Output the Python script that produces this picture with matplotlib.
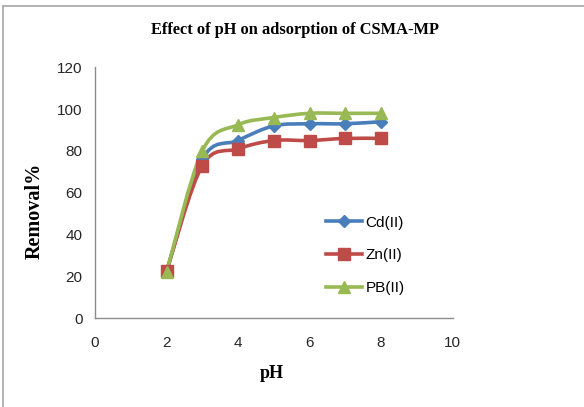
import numpy as np
import matplotlib
matplotlib.use("Agg")
import matplotlib.pyplot as plt
from matplotlib.path import Path
from matplotlib.patches import PathPatch
from matplotlib.lines import Line2D

ph = [2, 3, 4, 5, 6, 7, 8]
cd = [22, 76, 85, 92, 93, 93, 94]
zn = [22.5, 73, 81, 85, 85, 86, 86]
pb = [22, 80, 92.5, 96, 98, 98, 98]

labels = ["Cd(II)", "Zn(II)", "PB(II)"]
colors = ["#4a7ebb", "#be4b48", "#98b954"]
markers = ["D", "s", "^"]
msizes = [6, 8, 9]


def smooth_path(x, y):
    # Excel-style smoothed line: cubic Bezier through each point
    p = np.column_stack([x, y]).astype(float)
    n = len(p)
    verts = [p[0]]
    codes = [Path.MOVETO]
    for i in range(n - 1):
        p0 = p[i - 1] if i > 0 else p[i]
        p3 = p[i + 2] if i + 2 < n else p[i + 1]
        c1 = p[i] + (p[i + 1] - p0) / 6.0
        c2 = p[i + 1] - (p3 - p[i]) / 6.0
        verts += [c1, c2, p[i + 1]]
        codes += [Path.CURVE4] * 3
    return Path(verts, codes)


fig = plt.figure(figsize=(5.84, 4.07), dpi=100)
ax = fig.add_axes([95 / 584, 1 - 318.3 / 407, (452.5 - 95) / 584, (318.3 - 67.3) / 407])

handles = []
for vals, lab, c, m, ms in zip([cd, zn, pb], labels, colors, markers, msizes):
    ax.add_patch(PathPatch(smooth_path(ph, vals), facecolor="none", edgecolor=c,
                           lw=2.6, capstyle="round", joinstyle="round"))
    ax.plot(ph, vals, linestyle="none", marker=m, ms=ms, color=c)
    handles.append(Line2D([], [], color=c, lw=2.6, marker=m, ms=ms, label=lab))

ax.set_xlim(0, 10)
ax.set_ylim(0, 120)
ax.set_xticks(range(0, 11, 2))
ax.set_yticks(range(0, 121, 20))
for s in ["top", "right"]:
    ax.spines[s].set_visible(False)
for s in ["left", "bottom"]:
    ax.spines[s].set_color("#8c8c8c")
    ax.spines[s].set_linewidth(1.0)
ax.tick_params(length=0, labelsize=11, colors="#262626", pad=9)
ax.tick_params(axis="x", pad=13)
for t in ax.get_xticklabels() + ax.get_yticklabels():
    t.set_fontfamily("Liberation Sans")

fig.text(295 / 584, 1 - 30 / 407, "Effect of pH on adsorption of CSMA-MP",
         ha="center", va="center", family="Liberation Serif", weight="bold", fontsize=11.8)
fig.text(35 / 584, 1 - 211 / 407, "Removal%", rotation=90, ha="center", va="center",
         family="Liberation Serif", weight="bold", fontsize=14.5)
fig.text(272 / 584, 1 - 373 / 407, "pH", ha="center", va="center",
         family="Liberation Serif", weight="bold", fontsize=13)

fig.legend(handles=handles, loc="upper left", bbox_to_anchor=(318 / 584, 1 - 208 / 407),
           frameon=False, prop={"family": "Liberation Sans", "size": 11},
           handlelength=2.4, handletextpad=0.2, labelspacing=1.22, borderpad=0)

# chart area border
fig.add_artist(Line2D([3 / 584, 3 / 584], [0, 1 - 6 / 407], color="#a6a6a6", lw=1.2))
fig.add_artist(Line2D([3 / 584, 1], [1 - 6 / 407, 1 - 6 / 407], color="#a6a6a6", lw=1.2))

fig.savefig("out.png", dpi=100)
